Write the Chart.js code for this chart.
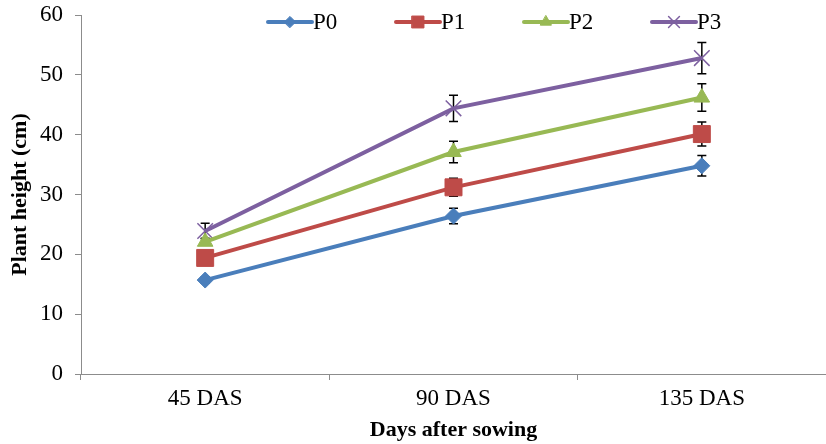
<!DOCTYPE html>
<html>
<head>
<meta charset="utf-8">
<script src="https://cdn.jsdelivr.net/npm/chart.js@4/dist/chart.umd.min.js"></script>
<style>
  html, body { margin: 0; padding: 0; background: #fff; }
  #wrap { width: 826px; height: 444px; }
</style>
</head>
<body>
<div id="wrap"><canvas id="heightChart"></canvas></div>
<script>
const days = ['45 DAS', '90 DAS', '135 DAS'];
const seriesNames = ['P0', 'P1', 'P2', 'P3'];
const p0 = [15.7, 26.4, 34.8];
const p1 = [19.4, 31.2, 40.1];
const p2 = [22.1, 37.1, 46.2];
const p3 = [23.9, 44.4, 52.8];
const p0Err = [0.5, 1.3, 1.7];
const p1Err = [0.6, 1.5, 2.0];
const p2Err = [0.6, 1.8, 2.3];
const p3Err = [1.3, 2.2, 2.6];

const colors = ['#4a7ebb', '#be4b48', '#98b954', '#7d60a0'];
const styles = ['rectRot', 'rect', 'triangle', 'crossRot'];
const radii = [8, 12, 9, 11];
const values = [p0, p1, p2, p3];
const errors = [p0Err, p1Err, p2Err, p3Err];

const serif = "'Liberation Serif', 'Times New Roman', serif";

// vertical error bars with small caps, drawn under the markers
const errorBars = {
  id: 'errorBars',
  beforeDatasetsDraw(chart) {
    const ctx = chart.ctx;
    const y = chart.scales.y;
    ctx.save();
    ctx.strokeStyle = '#000';
    ctx.lineWidth = 1.5;
    chart.data.datasets.forEach((ds, i) => {
      const meta = chart.getDatasetMeta(i);
      meta.data.forEach((pt, j) => {
        const e = ds.errors[j];
        const top = y.getPixelForValue(ds.data[j] + e);
        const bot = y.getPixelForValue(ds.data[j] - e);
        ctx.beginPath();
        ctx.moveTo(pt.x, top); ctx.lineTo(pt.x, bot);
        ctx.moveTo(pt.x - 4.5, top); ctx.lineTo(pt.x + 4.5, top);
        ctx.moveTo(pt.x - 4.5, bot); ctx.lineTo(pt.x + 4.5, bot);
        ctx.stroke();
      });
    });
    ctx.restore();
  }
};

// legend inside the plot, line + marker + name
const lineLegend = {
  id: 'lineLegend',
  afterDraw(chart) {
    const ctx = chart.ctx;
    const area = chart.chartArea;
    const yMid = 22;
    ctx.save();
    chart.data.datasets.forEach((ds, i) => {
      const x0 = area.left + 187 + i * 128;
      ctx.strokeStyle = ds.borderColor;
      ctx.lineWidth = 4;
      ctx.lineCap = 'round';
      ctx.beginPath();
      ctx.moveTo(x0, yMid); ctx.lineTo(x0 + 44, yMid);
      ctx.stroke();
      ctx.fillStyle = ds.backgroundColor;
      ctx.strokeStyle = ds.borderColor;
      ctx.lineWidth = ds.pointBorderWidth;
      Chart.helpers.drawPoint(ctx, {
        pointStyle: ds.pointStyle,
        radius: ds.pointRadius * 0.7,
        rotation: 0,
        borderWidth: ds.pointBorderWidth
      }, x0 + 22, yMid);
      ctx.fillStyle = '#000';
      ctx.font = '23px ' + serif;
      ctx.textBaseline = 'middle';
      ctx.fillText(ds.label, x0 + 45, yMid + 1);
    });
    ctx.restore();
  }
};

new Chart(document.getElementById('heightChart'), {
  type: 'line',
  data: {
    labels: days,
    datasets: seriesNames.map((name, i) => ({
      label: name,
      data: values[i],
      errors: errors[i],
      borderColor: colors[i],
      backgroundColor: colors[i],
      borderWidth: 4,
      pointStyle: styles[i],
      pointRadius: radii[i],
      pointHoverRadius: radii[i],
      pointBorderWidth: styles[i] === 'crossRot' ? 1.5 : 1,
      pointBorderColor: colors[i],
      pointBackgroundColor: colors[i],
      tension: 0
    }))
  },
  options: {
    responsive: true,
    maintainAspectRatio: false,
    animation: false,
    layout: { autoPadding: false, padding: { top: 15, right: 0, left: 0, bottom: 0 } },
    plugins: {
      legend: { display: false },
      tooltip: { enabled: false }
    },
    scales: {
      x: {
        offset: true,
        grid: { offset: true, drawOnChartArea: false, drawTicks: true, tickLength: 6, color: '#8c8c8c' },
        border: { display: true, color: '#8c8c8c', width: 1 },
        ticks: { color: '#000', font: { family: serif, size: 23 }, padding: 5, maxRotation: 0 },
        title: { display: true, text: 'Days after sowing', color: '#000', font: { family: serif, size: 22, weight: 'bold' }, padding: { top: 0, bottom: 0 } },
        afterFit(s) { s.height = 70; s.paddingLeft = 0; s.paddingRight = 0; }
      },
      y: {
        min: 0,
        max: 60,
        ticks: { stepSize: 10, color: '#000', font: { family: serif, size: 23 }, padding: 12 },
        grid: { drawOnChartArea: false, drawTicks: true, tickLength: 6, color: '#8c8c8c' },
        border: { display: true, color: '#8c8c8c', width: 1 },
        title: { display: true, text: 'Plant height (cm)', color: '#000', font: { family: serif, size: 22, weight: 'bold' }, padding: { top: 7, bottom: 0 } },
        afterFit(s) { s.width = 81; s.paddingTop = 0; s.paddingBottom = 0; }
      }
    }
  },
  plugins: [errorBars, lineLegend]
});
</script>
</body>
</html>
